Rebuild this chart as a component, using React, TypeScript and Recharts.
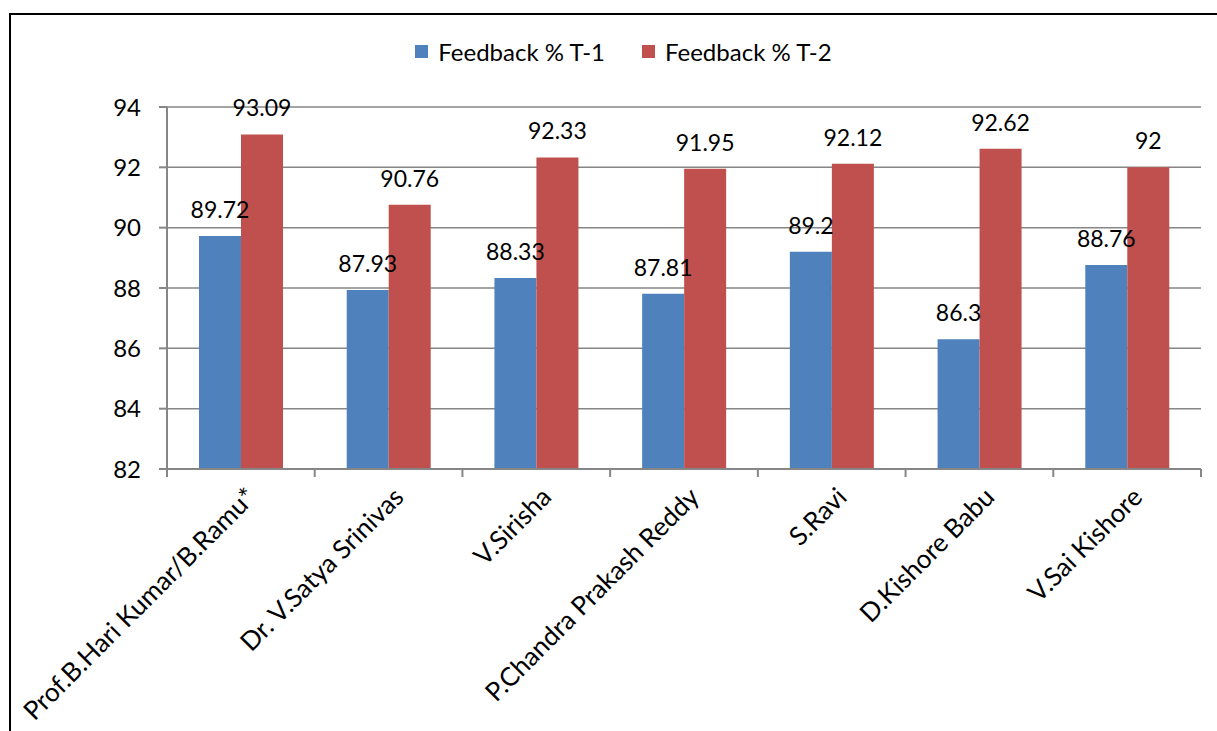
import React from 'react';
import { BarChart, Bar, XAxis, YAxis, CartesianGrid, Legend, LabelList } from 'recharts';

const names = [
  'Prof.B.Hari Kumar/B.Ramu*',
  'Dr. V.Satya Srinivas',
  'V.Sirisha',
  'P.Chandra Prakash Reddy',
  'S.Ravi',
  'D.Kishore Babu',
  'V.Sai Kishore',
];
const feedbackT1 = [89.72, 87.93, 88.33, 87.81, 89.2, 86.3, 88.76];
const feedbackT2 = [93.09, 90.76, 92.33, 91.95, 92.12, 92.62, 92];
const yTicks = [82, 84, 86, 88, 90, 92, 94];

const data = names.map((name, i) => ({ name, t1: feedbackT1[i], t2: feedbackT2[i] }));

const W = 1217;
const H = 731;
const xAxisHeight = 30;
const margin = { top: 37, right: 16, bottom: 262 - xAxisHeight, left: 107 };
const yAxisWidth = 60;
const band = (W - margin.left - yAxisWidth - margin.right) / names.length;
const font = 'Lato, "Open Sans", sans-serif';
const axisGray = '#868686';

function CategoryTick(props: any) {
  const { x, y, payload, index } = props;
  const tx = x + 2;
  const ty = y + 15;
  return (
    <g>
      <line x1={x - band / 2} y1={y} x2={x - band / 2} y2={y + 8} stroke={axisGray} strokeWidth={2} />
      {index === names.length - 1 && (
        <line x1={x + band / 2} y1={y} x2={x + band / 2} y2={y + 8} stroke={axisGray} strokeWidth={2} />
      )}
      <text
        x={tx}
        y={ty}
        transform={`rotate(-45 ${tx} ${ty})`}
        textAnchor="end"
        dominantBaseline="hanging"
        fontSize={26}
        fontFamily={font}
        fill="#000"
      >
        {payload.value}
      </text>
    </g>
  );
}

function LegendContent() {
  const items = [
    { label: 'Feedback % T-1', color: '#4F81BD' },
    { label: 'Feedback % T-2', color: '#C0504D' },
  ];
  return (
    <div style={{ display: 'flex', justifyContent: 'center', paddingRight: 24, fontFamily: font, fontSize: 24 }}>
      {items.map(it => (
        <div key={it.label} style={{ display: 'flex', alignItems: 'center', marginRight: 37 }}>
          <span style={{ width: 13, height: 13, background: it.color, display: 'inline-block', marginRight: 10 }} />
          <span>{it.label}</span>
        </div>
      ))}
    </div>
  );
}

export default function App() {
  return (
    <div style={{ position: 'fixed', left: 0, top: 0, width: W, height: H, overflow: 'hidden', background: '#fff' }}>
      <div
        style={{
          position: 'absolute',
          left: 9,
          top: 13,
          width: W + 40,
          height: H + 40,
          border: '2px solid #000',
          boxSizing: 'border-box',
        }}
      />
      <div style={{ position: 'absolute', left: 0, top: 0 }}>
        <BarChart width={W} height={H} data={data} margin={margin} barGap={0} barSize={42}>
          <CartesianGrid vertical={false} stroke={axisGray} strokeWidth={1.5} />
          <XAxis
            dataKey="name"
            interval={0}
            height={xAxisHeight}
            tickLine={false}
            tickSize={0}
            tickMargin={0}
            tick={<CategoryTick />}
            stroke={axisGray}
            strokeWidth={2}
          />
          <YAxis
            width={yAxisWidth}
            domain={[82, 94]}
            ticks={yTicks}
            allowDataOverflow
            tickSize={8}
            tickMargin={18}
            stroke={axisGray}
            strokeWidth={2}
            tick={{ fill: '#000', fontSize: 24, fontFamily: font }}
          />
          <Legend verticalAlign="top" height={70} content={<LegendContent />} />
          <Bar dataKey="t1" fill="#4F81BD" isAnimationActive={false}>
            <LabelList dataKey="t1" position="top" offset={18} fill="#000" fontSize={23} fontFamily={font} />
          </Bar>
          <Bar dataKey="t2" fill="#C0504D" isAnimationActive={false}>
            <LabelList dataKey="t2" position="top" offset={18} fill="#000" fontSize={23} fontFamily={font} />
          </Bar>
        </BarChart>
      </div>
    </div>
  );
}
